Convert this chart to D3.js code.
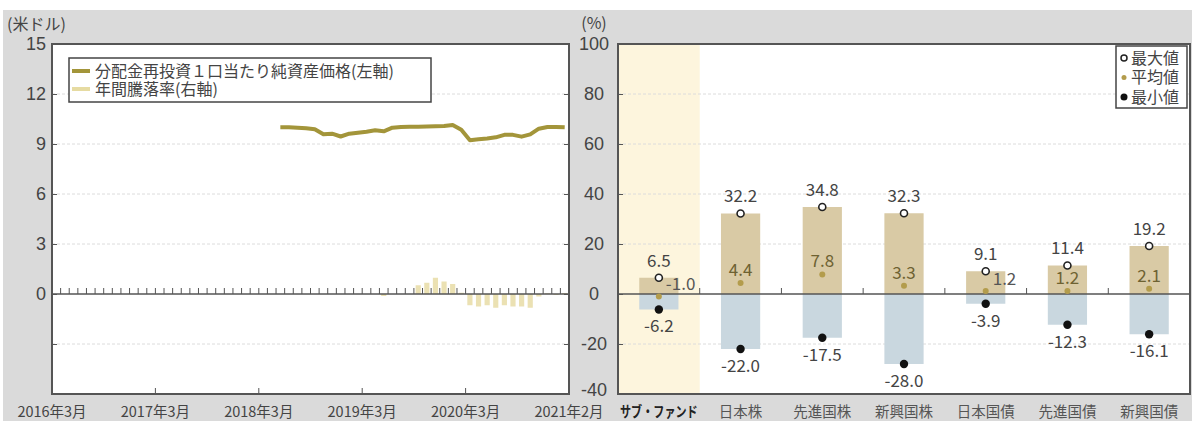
<!DOCTYPE html>
<html>
<head>
<meta charset="utf-8">
<script src="https://cdn.jsdelivr.net/npm/d3@7"></script>
<style>
  body { margin: 0; background: #fff; }
  svg { display: block; font-family: "Noto Sans CJK JP", "Noto Sans", sans-serif; }
</style>
</head>
<body>
<div id="chart"></div>
<script>
// months on the left panel (2016-03 .. 2021-02)
const months = d3.timeMonth
  .range(new Date(2016, 2, 1), new Date(2021, 2, 1))
  .map(d3.timeFormat('%Y-%m'))
const yearTicks = ['2016-03', '2017-03', '2018-03', '2019-03', '2020-03']
const yearLabels = ['2016年3月', '2017年3月', '2018年3月', '2019年3月', '2020年3月', '2021年2月']

// NAV per unit (USD), from 2018-05
const navStart = '2018-05'
const navValues = [10.0, 10.0, 9.98, 9.94, 9.88, 9.58, 9.62, 9.45, 9.62, 9.68,
  9.74, 9.82, 9.76, 9.98, 10.02, 10.03, 10.04, 10.05, 10.06, 10.08,
  10.14, 9.85, 9.22, 9.28, 9.33, 9.4, 9.55, 9.55, 9.44, 9.58,
  9.92, 10.02, 10.02, 10.0]

// yearly return (%), from 2019-05
const yoyStart = '2019-05'
const yoyValues = [-0.8, 0, 0, 0, 3.5, 4.5, 6.5, 5.0, 4.0, 0.5,
  -4.5, -5.0, -4.5, -5.5, -4.5, -5.0, -5.0, -5.5, -1.0, 0.3, -0.4, 0.4]

const navTicks = [-3, 0, 3, 6, 9, 12, 15]
const pctTicks = [100, 80, 60, 40, 20, 0, -20, -40]

// right panel
const categories = ['サブ・ファンド', '日本株', '先進国株', '新興国株', '日本国債', '先進国債', '新興国債']
const maxValues = [6.5, 32.2, 34.8, 32.3, 9.1, 11.4, 19.2]
const avgValues = [-1.0, 4.4, 7.8, 3.3, 1.2, 1.2, 2.1]
const minValues = [-6.2, -22.0, -17.5, -28.0, -3.9, -12.3, -16.1]

const rows = categories.map((c, i) => ({
  cat: c, max: maxValues[i], avg: avgValues[i], min: minValues[i]
}))

// plain hyphen for negatives, like the original
const loc = d3.formatLocale({ decimal: '.', thousands: ',', grouping: [3], currency: ['', ''], minus: '-' })
const fmt = loc.format('.1f')
const fmtInt = loc.format('d')

const L = { x: 52, y: 44, w: 517, h: 350 }
const R = { x: 618, y: 44, w: 572, h: 350 }

const svg = d3.select('#chart')
  .append('svg')
  .attr('width', 1192)
  .attr('height', 421)

svg.append('rect').attr('width', 1192).attr('height', 421).attr('fill', '#fff')
svg.append('rect')
  .attr('x', 3).attr('y', 10)
  .attr('width', 1189).attr('height', 411)
  .attr('fill', '#dadada')

const yNav = d3.scaleLinear().domain([-6, 15]).range([L.h, 0])
const yPct = d3.scaleLinear().domain([-40, 100]).range([L.h, 0])
const xMonth = d3.scaleBand().domain(months).range([0, L.w])
const bw = xMonth.bandwidth()

/* ---------- left panel ---------- */
const gL = svg.append('g').attr('transform', `translate(${L.x},${L.y})`)

gL.append('rect').attr('width', L.w).attr('height', L.h).attr('fill', '#fff')

gL.selectAll('.grid')
  .data(pctTicks.filter(t => t !== 0 && t !== 100 && t !== -40))
  .enter()
  .append('line')
  .attr('x1', 0).attr('x2', L.w)
  .attr('y1', d => yPct(d)).attr('y2', d => yPct(d))
  .attr('stroke', '#dcdcdc')
  .attr('stroke-dasharray', '3,2')

const yoy = yoyValues.map((v, i) => ({ m: months[months.indexOf(yoyStart) + i], v }))
gL.selectAll('.yoy')
  .data(yoy)
  .enter()
  .append('rect')
  .attr('x', d => xMonth(d.m) + bw * 0.2)
  .attr('width', bw * 0.6)
  .attr('y', d => yPct(Math.max(d.v, 0)))
  .attr('height', d => Math.abs(yPct(d.v) - yPct(0)))
  .attr('fill', '#ebe1b3')

gL.append('line')
  .attr('x1', 0).attr('x2', L.w)
  .attr('y1', yPct(0)).attr('y2', yPct(0))
  .attr('stroke', '#555').attr('stroke-width', 1.5)

gL.selectAll('.mtick')
  .data(months.slice(1))
  .enter()
  .append('line')
  .attr('x1', d => xMonth(d)).attr('x2', d => xMonth(d))
  .attr('y1', yPct(0) - 6).attr('y2', yPct(0))
  .attr('stroke', '#555')

const nav = navValues.map((v, i) => ({ m: months[months.indexOf(navStart) + i], v }))
const line = d3.line()
  .x(d => xMonth(d.m) + bw / 2)
  .y(d => yNav(d.v))

gL.append('path')
  .datum(nav)
  .attr('d', line)
  .attr('fill', 'none')
  .attr('stroke', '#a3953a')
  .attr('stroke-width', 4)
  .attr('stroke-linejoin', 'round')

const yAxisL = d3.axisLeft(yNav)
  .tickValues(navTicks)
  .tickSize(-5)
  .tickPadding(6)
  .tickFormat(d => (d < 0 ? '' : d))

gL.append('g')
  .call(yAxisL)
  .call(g => g.select('.domain').remove())
  .call(g => g.selectAll('line').attr('stroke', '#555'))
  .call(g => g.selectAll('text').attr('font-size', 18).attr('fill', '#444').attr('font-family', null))

gL.append('g')
  .attr('transform', `translate(${L.w},0)`)
  .call(d3.axisRight(yPct).tickValues(pctTicks).tickSize(-5).tickFormat(''))
  .call(g => g.select('.domain').remove())
  .call(g => g.selectAll('line').attr('stroke', '#555'))

gL.selectAll('.ytick')
  .data(yearTicks.slice(1))
  .enter()
  .append('line')
  .attr('x1', d => xMonth(d)).attr('x2', d => xMonth(d))
  .attr('y1', L.h - 6).attr('y2', L.h)
  .attr('stroke', '#555')

gL.selectAll('.xlabel')
  .data(yearLabels)
  .enter()
  .append('text')
  .attr('x', (d, i) => (i < yearTicks.length ? xMonth(yearTicks[i]) : L.w))
  .attr('y', 368)
  .attr('dy', '0.35em')
  .attr('text-anchor', 'middle')
  .attr('font-size', 14.5)
  .attr('fill', '#444')
  .text(d => d)

gL.append('rect')
  .attr('width', L.w).attr('height', L.h)
  .attr('fill', 'none').attr('stroke', '#555').attr('stroke-width', 2)

// legend
const legL = gL.append('g').attr('transform', 'translate(17,14)')
legL.append('rect')
  .attr('width', 362).attr('height', 44)
  .attr('fill', '#fff').attr('stroke', '#444').attr('stroke-width', 1.5)
const legItems = [
  { label: '分配金再投資１口当たり純資産価格(左軸)', color: '#a3953a' },
  { label: '年間騰落率(右軸)', color: '#e6dba2' }
]
legItems.forEach((d, i) => {
  const y = 13 + i * 18
  legL.append('line')
    .attr('x1', 3).attr('x2', 21).attr('y1', y).attr('y2', y)
    .attr('stroke', d.color).attr('stroke-width', 4)
  legL.append('text')
    .attr('x', 26).attr('y', y).attr('dy', '0.35em')
    .attr('font-size', 16).attr('fill', '#444')
    .text(d.label)
})

svg.append('text')
  .attr('x', 7).attr('y', 24).attr('dy', '0.35em')
  .attr('font-size', 16).attr('fill', '#444')
  .text('(米ドル)')

/* ---------- right panel ---------- */
const gR = svg.append('g').attr('transform', `translate(${R.x},${R.y})`)
const xCat = d3.scaleBand().domain(categories).range([0, R.w])
const cw = xCat.bandwidth()

gR.append('rect').attr('width', R.w).attr('height', R.h).attr('fill', '#fff')
gR.append('rect')
  .attr('x', xCat(categories[0])).attr('width', cw).attr('height', R.h)
  .attr('fill', '#fdf5dd')

gR.selectAll('.grid')
  .data(pctTicks.filter(t => t !== 0 && t !== 100 && t !== -40))
  .enter()
  .append('line')
  .attr('x1', 0).attr('x2', R.w)
  .attr('y1', d => yPct(d)).attr('y2', d => yPct(d))
  .attr('stroke', '#dcdcdc')
  .attr('stroke-dasharray', '3,2')

const barX = d => xCat(d.cat) + cw * 0.26
gR.selectAll('.pos')
  .data(rows)
  .enter()
  .append('rect')
  .attr('x', barX)
  .attr('width', cw * 0.48)
  .attr('y', d => yPct(d.max))
  .attr('height', d => yPct(0) - yPct(d.max))
  .attr('fill', '#d9caa5')

gR.selectAll('.neg')
  .data(rows)
  .enter()
  .append('rect')
  .attr('x', barX)
  .attr('width', cw * 0.48)
  .attr('y', yPct(0))
  .attr('height', d => yPct(d.min) - yPct(0))
  .attr('fill', '#c9d7df')

gR.append('line')
  .attr('x1', 0).attr('x2', R.w)
  .attr('y1', yPct(0)).attr('y2', yPct(0))
  .attr('stroke', '#555').attr('stroke-width', 1.5)

gR.selectAll('.ctick')
  .data(categories.slice(1))
  .enter()
  .append('line')
  .attr('x1', d => xCat(d)).attr('x2', d => xCat(d))
  .attr('y1', yPct(0) - 6).attr('y2', yPct(0))
  .attr('stroke', '#555')

gR.append('g')
  .call(d3.axisLeft(yPct).tickValues(pctTicks).tickSize(-5).tickFormat(fmtInt))
  .call(g => g.select('.domain').remove())
  .call(g => g.selectAll('line').attr('stroke', '#555'))
  .call(g => g.selectAll('text')
    .attr('x', -24)
    .attr('y', d => (d === -40 ? -4 : 0))
    .attr('text-anchor', 'middle')
    .attr('font-size', 18)
    .attr('fill', '#444')
    .attr('font-family', null))

const cx = d => xCat(d.cat) + cw / 2

// markers
gR.selectAll('.avg')
  .data(rows)
  .enter()
  .append('circle')
  .attr('cx', cx).attr('cy', d => yPct(d.avg))
  .attr('r', 3)
  .attr('fill', '#b39c4c')

gR.selectAll('.max')
  .data(rows)
  .enter()
  .append('circle')
  .attr('cx', cx).attr('cy', d => yPct(d.max))
  .attr('r', 3.5)
  .attr('fill', '#fff').attr('stroke', '#222').attr('stroke-width', 1.6)

gR.selectAll('.min')
  .data(rows)
  .enter()
  .append('circle')
  .attr('cx', cx).attr('cy', d => yPct(d.min))
  .attr('r', 4.2)
  .attr('fill', '#111')

// value labels
const labels = gR.append('g').attr('font-size', 17).attr('text-anchor', 'middle')

labels.selectAll('.lmax')
  .data(rows)
  .enter()
  .append('text')
  .attr('x', cx).attr('y', d => yPct(d.max) - 17)
  .attr('dy', '0.35em')
  .attr('fill', '#444')
  .text(d => fmt(d.max))

labels.selectAll('.lmin')
  .data(rows)
  .enter()
  .append('text')
  .attr('x', cx).attr('y', d => yPct(d.min) + 17)
  .attr('dy', '0.35em')
  .attr('fill', '#444')
  .text(d => fmt(d.min))

// average label: beside the dot when the bar above it is too short
labels.selectAll('.lavg')
  .data(rows)
  .enter()
  .append('text')
  .each(function(d) {
    const side = d.max - d.avg < 9
    d3.select(this)
      .attr('x', side ? cx(d) + 7 : cx(d))
      .attr('y', side ? yPct(d.avg) - 12 : yPct(d.avg) - 13)
      .attr('dy', '0.35em')
      .attr('text-anchor', side ? 'start' : 'middle')
      .attr('fill', side ? '#555' : '#6e6232')
  })
  .text(d => fmt(d.avg))

gR.append('rect')
  .attr('width', R.w).attr('height', R.h)
  .attr('fill', 'none').attr('stroke', '#555').attr('stroke-width', 2)

gR.selectAll('.clabel')
  .data(categories)
  .enter()
  .append('text')
  .attr('x', d => xCat(d) + cw / 2)
  .attr('y', 368)
  .attr('dy', '0.35em')
  .attr('text-anchor', 'middle')
  .attr('font-size', 14.5)
  .attr('font-weight', (d, i) => (i === 0 ? 'bold' : 'normal'))
  .attr('fill', (d, i) => (i === 0 ? '#222' : '#555'))
  .each(function(d, i) {
    if (i === 0) d3.select(this).attr('textLength', cw - 4).attr('lengthAdjust', 'spacingAndGlyphs')
  })
  .text(d => d)

// legend
const legR = gR.append('g').attr('transform', 'translate(498,2)')
legR.append('rect')
  .attr('width', 71).attr('height', 62)
  .attr('fill', '#fff').attr('stroke', '#444').attr('stroke-width', 1.5)
const legMarks = ['最大値', '平均値', '最小値']
legMarks.forEach((t, i) => {
  const y = 12 + i * 19.5
  const m = legR.append('circle').attr('cx', 8).attr('cy', y)
  if (i === 0) m.attr('r', 3).attr('fill', '#fff').attr('stroke', '#222').attr('stroke-width', 1.5)
  if (i === 1) m.attr('r', 2.5).attr('fill', '#b39c4c')
  if (i === 2) m.attr('r', 3.5).attr('fill', '#111')
  legR.append('text')
    .attr('x', 15).attr('y', y).attr('dy', '0.35em')
    .attr('font-size', 16).attr('fill', '#444')
    .text(t)
})

svg.append('text')
  .attr('x', 594).attr('y', 23).attr('dy', '0.35em')
  .attr('text-anchor', 'middle')
  .attr('font-size', 16).attr('fill', '#444')
  .text('(%)')
</script>
</body>
</html>
